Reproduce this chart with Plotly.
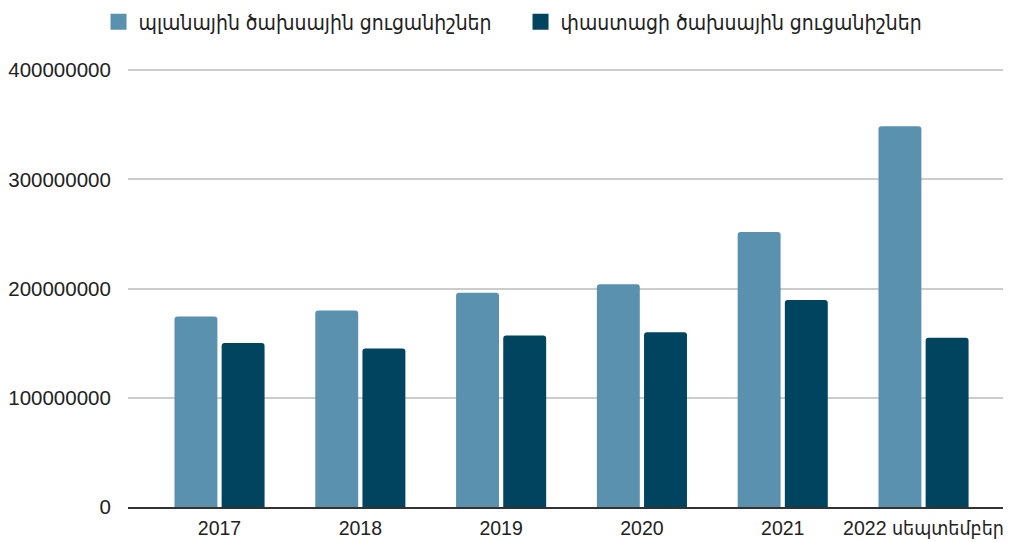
import plotly.graph_objects as go

categories = ["2017", "2018", "2019", "2020", "2021", "2022 սեպտեմբեր"]
planned = [174500000, 179800000, 196200000, 204000000, 251700000, 348600000]
actual = [150200000, 145200000, 156900000, 160000000, 189600000, 155000000]
series_names = ["պլանային ծախսային ցուցանիշներ", "փաստացի ծախսային ցուցանիշներ"]
series_colors = ["#5A91AF", "#01445F"]
y_ticks = [0, 100000000, 200000000, 300000000, 400000000]

font_family = "Liberation Sans, Arial, DejaVu Sans Condensed, DejaVu Sans, sans-serif"

fig = go.Figure()
for vals, name, color in zip([planned, actual], series_names, series_colors):
    fig.add_trace(go.Bar(x=categories, y=vals, name=name, marker_color=color,
                         marker_line_width=0, showlegend=False, legendgroup=name))
# legend entries with larger square swatches
for name, color in zip(series_names, series_colors):
    fig.add_trace(go.Scatter(x=[None], y=[None], mode="markers", name=name, legendgroup=name,
                             marker=dict(symbol="square", size=16, color=color), showlegend=True))

fig.update_layout(
    width=1003, height=534,
    margin=dict(l=120, r=3, t=61, b=35, autoexpand=False),
    paper_bgcolor="white", plot_bgcolor="white",
    font=dict(family=font_family, size=20, color="#222"),
    barmode="group", bargap=0.33, bargroupgap=0.09,
    barcornerradius=3,
    legend=dict(orientation="h", xref="container", yref="paper", x=0.511, y=1.107,
                xanchor="center", yanchor="middle", font=dict(size=21, color="#222"),
                itemwidth=30, traceorder="normal", entrywidth=377),
    showlegend=True,
)
fig.update_xaxes(range=[-0.65, 5.6], showline=True, linecolor="#333", linewidth=1.5,
                 showgrid=False, ticks="", tickfont=dict(size=19.5), automargin=False,
                 ticklabelstandoff=3)
fig.update_yaxes(range=[0, 401000000], tickvals=y_ticks, tickformat="d",
                 showgrid=True, gridcolor="#cccccc", gridwidth=1.5, zeroline=False,
                 ticks="outside", ticklen=12, tickcolor="rgba(0,0,0,0)", tickfont=dict(size=20.5),
                 automargin=False)

fig.write_html("out.html")
